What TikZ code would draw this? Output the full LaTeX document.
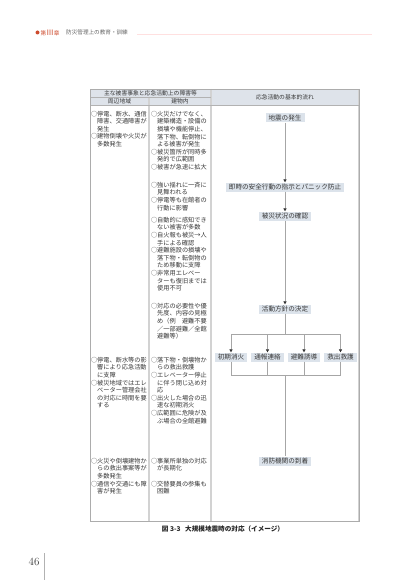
\documentclass[tikz,border=0pt]{standalone}
\usepackage{fontspec}
\newfontfamily\jp{Noto Sans CJK JP}
\usetikzlibrary{arrows.meta}
\definecolor{hdrfill}{RGB}{222,227,234}
\definecolor{boxfill}{RGB}{220,227,235}
\definecolor{txtgray}{RGB}{55,55,55}
\definecolor{chapred}{RGB}{205,75,45}
\newcommand{\ind}{\hspace*{1em}}

\begin{document}
\begin{tikzpicture}[x=1pt, y=-1pt,
  cell/.style={anchor=north west, inner sep=0pt, align=left, text=txtgray,
    font=\jp\fontsize{6.2}{7.6}\selectfont},
  hdr/.style={inner sep=0pt, text=txtgray, font=\jp\fontsize{5.8}{7}\selectfont},
  stage/.style={fill=boxfill, inner xsep=3pt, inner ysep=0pt, minimum height=9pt,
    text=txtgray, font=\jp\fontsize{6.6}{7}\selectfont},
  flow/.style={draw=gray!70, line width=0.7pt},
  arr/.style={flow, -{Triangle[width=3.2pt,length=3pt,color=gray!40!black]}}]
\useasboundingbox (0,0) rectangle (410,580);

% page head
\fill[chapred] (37.5,32.5) circle (2);
\node[anchor=west, inner sep=0pt, text=chapred, font=\jp\fontsize{5.6}{6}\selectfont] (chap) at (40.5,32.5) {第{\fontsize{7.5}{8}\selectfont\itshape Ⅲ}章};
\node[anchor=west, inner sep=0pt, text=gray!80!black, font=\jp\fontsize{5.6}{6}\selectfont] (chaptitle) at (66,32.5) {防災管理上の教育・訓練};
\draw[red!12, line width=0.8pt] (137,34.5) -- (372,34.5);

% table
\fill[hdrfill] (90,89) rectangle (359,105);
\draw[gray!35, line width=1.1pt] (149,97) -- (149,521);
\draw[gray!35, line width=1.1pt] (211,89) -- (211,521);
\draw[gray!35, line width=1.1pt] (359,89) -- (359,521);
\draw[gray!60, line width=0.5pt] (90,97) -- (211,97);
\draw[gray!60, line width=0.5pt] (90,105) -- (359,105);
\draw[gray!65, line width=0.6pt] (90,89) rectangle (359,521);

\node[hdr] (hdmain) at (150.5,93) {主な被害事象と応急活動上の障害等};
\node[hdr] (hdarea) at (119.5,101.2) {周辺地域};
\node[hdr] (hdbldg) at (180,101.2) {建物内};
\node[hdr] (hdflow) at (285,97) {応急活動の基本的流れ};

% column 1
\node[cell] (areaA) at (90.8,110.8) {○停電、断水、通信\\\ind 障害、交通障害が\\\ind 発生\\○建物倒壊や火災が\\\ind 多数発生};
\node[cell] (areaB) at (90.8,356.8) {○停電、断水等の影\\\ind 響により応急活動\\\ind に支障\\○被災地域ではエレ\\\ind ベーター管理会社\\\ind の対応に時間を要\\\ind する};
\node[cell] (areaC) at (90.8,457.8) {○火災や倒壊建物か\\\ind らの救出事案等が\\\ind 多数発生\\○通信や交通にも障\\\ind 害が発生};

% column 2
\node[cell] (bldgA) at (150.8,110.8) {○火災だけでなく、\\\ind 建築構造・設備の\\\ind 損壊や機能停止、\\\ind 落下物、転倒物に\\\ind よる被害が発生\\○被災箇所が同時多\\\ind 発的で広範囲\\○被害が急速に拡大};
\node[cell] (bldgB) at (150.8,181.8) {○強い揺れに一斉に\\\ind 見舞われる\\○停電等も在館者の\\\ind 行動に影響};
\node[cell] (bldgC) at (150.8,216.8) {○自動的に感知でき\\\ind ない被害が多数\\○自火報も被災→人\\\ind 手による確認\\○避難施設の損壊や\\\ind 落下物・転倒物の\\\ind ため移動に支障\\○非常用エレベー\\\ind ターも復旧までは\\\ind 使用不可};
\node[cell] (bldgD) at (150.8,302.8) {○対応の必要性や優\\\ind 先度、内容の見極\\\ind め（例　避難不要\\\ind ／一部避難／全館\\\ind 避難等）};
\node[cell] (bldgE) at (150.8,356.8) {○落下物・倒壊物か\\\ind らの救出救護\\○エレベーター停止\\\ind に伴う閉じ込め対\\\ind 応\\○出火した場合の迅\\\ind 速な初期消火\\○広範囲に危険が及\\\ind ぶ場合の全館避難};
\node[cell] (bldgF) at (150.8,457.8) {○事業所単独の対応\\\ind が長期化\\[7.6pt]○交替要員の参集も\\\ind 困難};

% column 3: flow
\node[stage] (quake) at (285,118) {地震の発生};
\node[stage] (safety) at (285,187) {即時の安全行動の指示とパニック防止};
\node[stage] (survey) at (285,216) {被災状況の確認};
\node[stage] (plan) at (285,309) {活動方針の決定};
\coordinate (fork) at (285,334);
\node[stage] (fire) at (231,357) {初期消火};
\node[stage] (report) at (267.5,357) {通報連絡};
\node[stage] (evac) at (304,357) {避難誘導};
\node[stage] (rescue) at (340.5,357) {救出救護};
\coordinate (merge) at (285,375);
\node[stage] (arrive) at (285,461) {消防機関の到着};

\draw[arr] (quake) -- (safety);
\draw[arr] (safety) -- (survey);
\draw[arr] (survey) -- (plan);
\draw[flow] (plan) -- (fork);
\draw[flow] (fire |- fork) -- (rescue |- fork);
\foreach \n in {fire,report,evac,rescue}
  \draw[arr] (\n |- fork) -- (\n);
\draw[flow] (fire) -- (fire |- merge) -- (rescue |- merge) -- (rescue);
\draw[flow] (report) -- (report |- merge);
\draw[flow] (evac) -- (evac |- merge);
\draw[flow] (merge) -- (arrive);

% caption and folio
\node[text=black!85, font=\jp\bfseries\fontsize{6.6}{7}\selectfont] (caption) at (223,528.5) {図 3-3\hspace{0.7em}大規模地震時の対応（イメージ）};
\node[text=txtgray, font=\fontsize{11}{11}\selectfont] (folio) at (34,562) {46};
\draw[gray!60, line width=0.6pt] (44,553) -- (44,580);
\end{tikzpicture}
\end{document}
